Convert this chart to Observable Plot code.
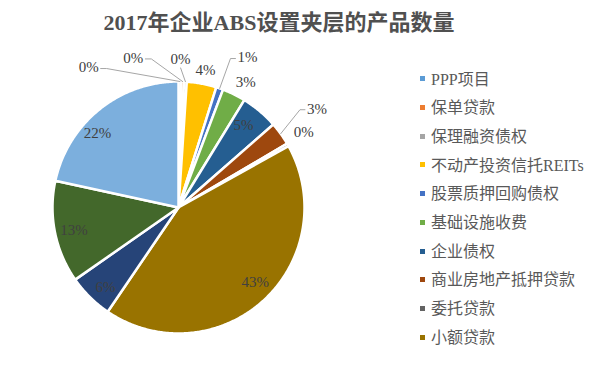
<!DOCTYPE html>
<html><head><meta charset="utf-8">
<script src="https://cdn.jsdelivr.net/npm/d3@7"></script>
<script src="https://cdn.jsdelivr.net/npm/@observablehq/plot@0.6"></script>
<style>
body{margin:0;background:#fff;width:600px;height:370px;overflow:hidden;font-family:"Liberation Serif","Noto Sans CJK SC",serif;}
#title{height:40px;position:relative;}
#title span{position:absolute;left:0;width:558px;top:8px;line-height:30px;text-align:center;font-size:22px;font-weight:bold;color:#505050;white-space:nowrap;}
#wrap{position:relative;width:600px;height:330px;}
#wrap svg{display:block;}
#legend{position:absolute;left:420px;top:25.6px;}
.item{height:28.7px;line-height:28.7px;font-size:16px;color:#595959;white-space:nowrap;}
.sw{display:inline-block;width:5px;height:5px;margin-right:6px;vertical-align:middle;position:relative;top:-2px;}
</style>
</head><body>
<div id="title"><span>2017年企业ABS设置夹层的产品数量</span></div>
<div id="wrap"><div id="legend"></div></div>
<script>
// ---- data ----
const categories = ["PPP项目","保单贷款","保理融资债权","不动产投资信托REITs","股票质押回购债权","基础设施收费","企业债权","商业房地产抵押贷款","委托贷款","小额贷款","类别11","类别12","类别13"];
const shares = [0.35,0.35,0.35,3.8,0.9,3.0,4.8,3.0,0.35,42.6,5.8,13.1,21.6];
const colors = ["#5B9BD5","#ED7D31","#A5A5A5","#FFC000","#4472C4","#70AD47","#255E91","#9E480E","#636363","#997300","#264478","#43682B","#7CAFDD"];
const legendCount = 10;
// ---- label layout (polar: degrees clockwise from 12 o'clock, radius as fraction of pie radius) ----
const labelAngle = [327.3,343.2,0.8,11.1,24.7,28.2,38.4,54.5,59,134.2,222.4,257.6,312.4];
const labelRadius = [1.32,1.24,1.18,1.11,1.31,1.13,0.83,1.35,1.16,0.85,0.86,0.85,0.87];
const leaderSide = ["left","left","below",null,"right",null,null,"right",null,null,null,null,null];

const R = 126, cx = 178, cy = 167, px = 1 / R;
const total = d3.sum(shares);
const arcs = d3.pie().sort(null).value(d => d)(shares);

const slicePts = [];
arcs.forEach((a, i) => {
  const name = categories[i];
  slicePts.push({name, x: 0, y: 0});
  const n = Math.max(2, Math.ceil((a.endAngle - a.startAngle) / (0.5 * Math.PI / 180)));
  for (let k = 0; k <= n; k++) {
    const t = a.startAngle + (a.endAngle - a.startAngle) * k / n;
    slicePts.push({name, x: Math.sin(t), y: Math.cos(t)});
  }
});

const labels = categories.map((c, i) => {
  const t = labelAngle[i] * Math.PI / 180;
  return {text: Math.round(shares[i] / total * 100) + "%", x: labelRadius[i] * Math.sin(t), y: labelRadius[i] * Math.cos(t)};
});

const leaders = [];
arcs.forEach((a, i) => {
  const side = leaderSide[i];
  if (!side) return;
  const m = (a.startAngle + a.endAngle) / 2;
  const L = labels[i];
  let s, e;
  if (side === "left") { s = {x: L.x + 12 * px, y: L.y - 1 * px}; e = {x: s.x + 6 * px, y: s.y}; }
  else if (side === "right") { s = {x: L.x - 12 * px, y: L.y - 1 * px}; e = {x: s.x - 5 * px, y: s.y}; }
  else { s = {x: L.x, y: L.y - 9 * px}; e = s; }
  leaders.push({id: i, x: s.x, y: s.y});
  leaders.push({id: i, x: e.x, y: e.y});
  leaders.push({id: i, x: Math.sin(m) * 1.0, y: Math.cos(m) * 1.0});
});

const plot = Plot.plot({
  width: 600, height: 330, margin: 0,
  x: {domain: [-1, 1], range: [cx - R, cx + R], axis: null},
  y: {domain: [-1, 1], range: [cy + R, cy - R], axis: null},
  color: {domain: categories, range: colors},
  marks: [
    Plot.line(slicePts, {x: "x", y: "y", z: "name", fill: "name", stroke: "white", strokeWidth: 2.5, curve: "linear-closed", strokeLinejoin: "round"}),
    Plot.line(leaders, {x: "x", y: "y", z: "id", stroke: "#a6a6a6", strokeWidth: 1}),
    Plot.text(labels, {x: "x", y: "y", text: "text", fontFamily: "Liberation Serif", fontSize: 15, fill: "#404040"})
  ]
});
document.getElementById("wrap").append(plot);

const color = plot.scale("color");
const leg = document.getElementById("legend");
categories.slice(0, legendCount).forEach(c => {
  const d = document.createElement("div");
  d.className = "item";
  const s = document.createElement("span");
  s.className = "sw";
  s.style.background = color.apply(c);
  d.append(s, document.createTextNode(c));
  leg.append(d);
});
</script>
</body></html>
